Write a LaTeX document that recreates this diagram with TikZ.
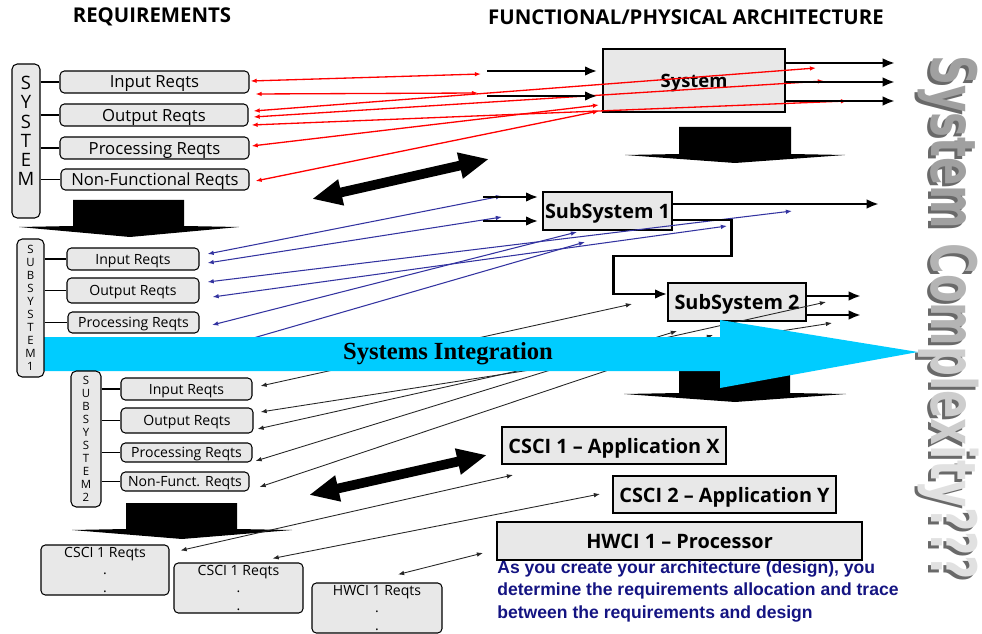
\documentclass[tikz,border=0pt]{standalone}
\usepackage{fontspec}
\setmainfont{Open Sans}
\newfontfamily\serifbf{Liberation Serif}
\newfontfamily\notefont{Liberation Sans}
\newfontfamily\complexfont{DejaVu Sans Condensed}
\usetikzlibrary{arrows.meta,calc}
\newlength\pxu \setlength\pxu{0.02cm}
\definecolor{boxgray}{RGB}{232,232,232}
\definecolor{tracered}{RGB}{255,0,0}
\definecolor{traceblue}{RGB}{51,51,160}
\definecolor{integ}{RGB}{0,204,255}
\definecolor{notenavy}{RGB}{20,20,130}
\definecolor{cgA}{RGB}{160,160,160}
\definecolor{cgB}{RGB}{180,180,180}
\definecolor{cgC}{RGB}{205,205,205}
\definecolor{cgD}{RGB}{225,225,225}
\definecolor{cshadow}{RGB}{105,105,105}
\begin{document}
\begin{tikzpicture}[x=0.02cm,y=-0.02cm,
  reqbox/.style={draw, rounded corners=2.5pt, fill=boxgray, line width=0.6pt, inner sep=0pt, align=center},
  oneline/.style={text depth=0pt},
  vbox/.style={draw, rounded corners=3pt, fill=boxgray, line width=0.6pt, inner sep=0pt, align=center},
  archbox/.style={draw, fill=boxgray, line width=0.8pt, inner sep=0pt, text depth=0pt, font=\fontsize{11.3}{13}\selectfont\bfseries},
  stub/.style={line width=0.8pt},
  redtrace/.style={draw=tracered, line width=0.75pt, >={Latex[length=3.5pt,width=2.6pt]}, <->},
  bluetrace/.style={draw=traceblue, line width=0.6pt, >={Latex[length=3.5pt,width=2.6pt]}, <->},
  blacktrace/.style={draw=black!85, line width=0.5pt, >={Latex[length=3.5pt,width=2.6pt]}, <->},
  flow/.style={line width=1.7pt, -{Latex[length=7pt,width=5.5pt]}},
  fatarrow/.style={line width=5.5pt, {Triangle[length=17pt,width=14pt]}-{Triangle[length=17pt,width=14pt]}},
  titlefont/.style={font=\fontsize{11.6}{13}\selectfont\bfseries}
]
\useasboundingbox (0,0) rectangle (982,634);

% big vertical text
\node[rotate=-90, inner sep=0pt, text=cshadow] (cxs) at (945.5,320.5)
  {\resizebox{10.5cm}{0.95cm}{\complexfont\bfseries System Complexity???}};
\node[rotate=-90, inner sep=0pt] (cx) at (948.5,317.5)
  {\resizebox{10.5cm}{0.95cm}{\complexfont\bfseries\color{cgA}System \color{cgB}Com\color{cgC}plex\color{cgD}ity???}};

% titles
\node[titlefont] (treq) at (152,17) {REQUIREMENTS};
\node[titlefont] (tarch) at (686,17) {FUNCTIONAL/PHYSICAL ARCHITECTURE};

% block arrows
\fill (73,200) -- (184,200) -- (184,226) -- (239,227) -- (130,237) -- (19,227) -- (73,226) -- cycle;
\fill (679,127) -- (791,127) -- (791,154) -- (845,155) -- (735,163) -- (625,155) -- (679,154) -- cycle;
\fill (679,350) -- (790,350) -- (790,393) -- (846,394) -- (735,402) -- (624,394) -- (679,393) -- cycle;
\fill (126,503) -- (237,503) -- (237,529) -- (292,530) -- (182,539) -- (72,530) -- (126,529) -- cycle;

% architecture boxes
\node[archbox, minimum width=182\pxu, minimum height=63\pxu, font=\fontsize{10.5}{12}\selectfont\bfseries] (sys) at (694,80.5) {System};
\node[archbox, minimum width=129\pxu, minimum height=38\pxu] (ss1) at (607.5,211) {SubSystem 1};
\node[archbox, minimum width=138\pxu, minimum height=38\pxu] (ss2) at (737,302) {SubSystem 2};
\node[archbox, minimum width=224\pxu, minimum height=37\pxu] (csci1) at (614,445.5) {CSCI 1 – Application X};
\node[archbox, minimum width=223\pxu, minimum height=37\pxu] (csci2) at (724.5,494.5) {CSCI 2 – Application Y};
\node[archbox, minimum width=365\pxu, minimum height=38\pxu] (hwci) at (679.5,541) {HWCI 1 – Processor};

% note
\node[anchor=north west, inner sep=0pt, align=left, text=notenavy,
      font=\notefont\bfseries\fontsize{10}{12.8}\selectfont] (note) at (497,560)
  {As you create your architecture (design), you\\determine the requirements allocation and trace\\between the requirements and design};

% requirement boxes (bottom level)
\node[reqbox, minimum width=128\pxu, minimum height=50\pxu, font=\fontsize{8}{9.8}\selectfont] (c1r) at (105,570) {CSCI 1 Reqts\\.\\.};
\node[reqbox, minimum width=129\pxu, minimum height=50\pxu, font=\fontsize{8}{9.8}\selectfont] (c2r) at (238.5,588) {CSCI 1 Reqts\\.\\.};
\node[reqbox, minimum width=130\pxu, minimum height=50\pxu, font=\fontsize{8}{9.8}\selectfont] (h1r) at (377,608) {HWCI 1 Reqts\\.\\.};

% subsystem 2 requirement boxes
\node[reqbox, oneline, minimum width=131\pxu, minimum height=22\pxu, font=\fontsize{8}{10}\selectfont] (ir3) at (186.5,389) {Input Reqts};
\node[reqbox, oneline, minimum width=132\pxu, minimum height=25\pxu, font=\fontsize{8}{10}\selectfont] (or3) at (187,420.5) {Output Reqts};
\node[reqbox, oneline, minimum width=131\pxu, minimum height=19\pxu, font=\fontsize{8}{10}\selectfont] (pr3) at (186.5,452.5) {Processing Reqts};
\node[reqbox, oneline, minimum width=128\pxu, minimum height=19\pxu, font=\fontsize{8}{10}\selectfont] (nr3) at (185,481.5) {Non-Funct. Reqts};

% subsystem 1 requirement boxes
\node[reqbox, oneline, minimum width=132\pxu, minimum height=22\pxu, font=\fontsize{8}{10}\selectfont] (ir2) at (133,259) {Input Reqts};
\node[reqbox, oneline, minimum width=132\pxu, minimum height=25\pxu, font=\fontsize{8}{10}\selectfont] (or2) at (133,290.5) {Output Reqts};
\node[reqbox, oneline, minimum width=131\pxu, minimum height=21\pxu, font=\fontsize{8}{10}\selectfont] (pr2) at (133.5,322.5) {Processing Reqts};

% system requirement boxes
\node[reqbox, oneline, minimum width=189\pxu, minimum height=22\pxu, font=\fontsize{9.5}{11}\selectfont] (ir1) at (154.5,82) {Input Reqts};
\node[reqbox, oneline, minimum width=188\pxu, minimum height=22\pxu, font=\fontsize{9.5}{11}\selectfont] (or1) at (154,115) {Output Reqts};
\node[reqbox, oneline, minimum width=189\pxu, minimum height=22\pxu, font=\fontsize{9.5}{11}\selectfont] (pr1) at (154.5,148) {Processing Reqts};
\node[reqbox, oneline, minimum width=188\pxu, minimum height=21\pxu, font=\fontsize{9.5}{11}\selectfont] (nr1) at (155,179.5) {Non-Functional Reqts};

% trace end points on the architecture side
\coordinate (r1e) at (481,74);
\coordinate (r2e) at (478,93);
\coordinate (r3e) at (816,68);
\coordinate (r4e) at (824,81);
\coordinate (r5e) at (847,101);
\coordinate (r6e) at (599,105);
\coordinate (r7e) at (599,111);
\coordinate (b1e) at (502,196);
\coordinate (b2e) at (502,217);
\coordinate (b3e) at (792,211);
\coordinate (b4e) at (727,226);
\coordinate (b5e) at (577,232);
\coordinate (b6e) at (585,242);
\coordinate (b6s) at (205,352);
\coordinate (k1e) at (632,304);
\coordinate (k2e) at (832,323);
\coordinate (k3e) at (826,302);
\coordinate (k4e) at (677,331);
\coordinate (k5e) at (713,335);
\coordinate (k6e) at (513,475);
\coordinate (k7e) at (600,494);
\coordinate (k8e) at (483,553);

% red traces
\draw[redtrace] ($(ir1.east)+(1,-1)$) -- (r1e);
\draw[redtrace] ($(ir1.east)+(6,12)$) -- (r2e);
\draw[redtrace] ($(or1.east)+(5,-4)$) -- (r3e);
\draw[redtrace] ($(or1.east)+(5,2)$) -- (r4e);
\draw[redtrace] ($(or1.east)+(3,10)$) -- (r5e);
\draw[redtrace] ($(pr1.east)+(2,-2)$) -- (r6e);
\draw[redtrace] ($(nr1.east)+(6,1.5)$) -- (r7e);

% blue traces
\draw[bluetrace] ($(ir2.east)+(8,-5)$) -- (b1e);
\draw[bluetrace] ($(ir2.east)+(8,4)$) -- (b2e);
\draw[bluetrace] ($(or2.east)+(8,-8.5)$) -- (b3e);
\draw[bluetrace] ($(or2.east)+(13,6.5)$) -- (b4e);
\draw[bluetrace] ($(pr2.east)+(12.5,2.5)$) -- (b5e);
\draw[bluetrace] (b6s) -- (b6e);

% black traces
\draw[blacktrace] ($(ir3.east)+(8,-3)$) -- (k1e);
\draw[blacktrace] ($(or3.east)+(7,-8.5)$) -- (k2e);
\draw[blacktrace] ($(or3.east)+(4,8.5)$) -- (k3e);
\draw[blacktrace] ($(pr3.east)+(3,8.5)$) -- (k4e);
\draw[blacktrace] ($(nr3.east)+(10,5.5)$) -- (k5e);
\draw[blacktrace] ($(c1r.north east)+(11,6)$) -- (k6e);
\draw[blacktrace] ($(c2r.north east)+(-31,-4)$) -- (k7e);
\draw[blacktrace] ($(h1r.north)+(21,-8)$) -- (k8e);

% flow arrows of the architecture
\coordinate (in1) at (487,71);
\coordinate (in2) at (487,96);
\coordinate (in3) at (483,197);
\coordinate (in4) at (483,221);
\draw[flow] (in1) -- ([xshift=-5\pxu]sys.west |- in1);
\draw[flow] (in2) -- ([xshift=-5\pxu]sys.west |- in2);
\draw[flow] (sys.east |- 0,63) -- (895,63);
\draw[flow] (sys.east |- 0,82) -- (895,82);
\draw[flow] (sys.east |- 0,101) -- (895,101);
\draw[flow] (in3) -- ([xshift=-4\pxu]ss1.west |- in3);
\draw[flow] (in4) -- ([xshift=-4\pxu]ss1.west |- in4);
\draw[flow] (ss1.east |- 0,204) -- (879,204);
\draw[flow] (ss1.east |- 0,220) -- (731,220) -- (731,256) -- (613,256) -- (613,294) -- (ss2.west |- 0,294);
\draw[flow] (ss2.east |- 0,296) -- (861,296);
\draw[flow] (ss2.east |- 0,315) -- (861,315);

% fat double arrows
\coordinate (fa1a) at (312,199);
\coordinate (fa1b) at (489,159);
\coordinate (fa2a) at (309,495);
\coordinate (fa2b) at (487,455);
\draw[fatarrow] (fa1a) -- (fa1b);
\draw[fatarrow] (fa2a) -- (fa2b);

% systems integration arrow
\fill[integ] (30,337) -- (720,337) -- (720,320) -- (918,352) -- (720,388) -- (720,371) -- (30,371) -- cycle;
\node[font=\serifbf\bfseries\fontsize{14}{16}\selectfont] (integ) at (448,354) {Systems Integration};

% vertical boxes and stubs
\node[vbox, minimum width=28\pxu, minimum height=154\pxu] (sysv) at (26,141) {};
\node[inner sep=0pt, align=center, font=\fontsize{10.5}{11}\selectfont] (sysvt) at (26,131) {S\\Y\\S\\T\\E\\M};
\node[vbox, minimum width=27\pxu, minimum height=138\pxu, font=\fontsize{6.5}{7.4}\selectfont] (ss1v) at (30.5,308) {S\\U\\B\\S\\Y\\S\\T\\E\\M\\1};
\node[vbox, minimum width=30\pxu, minimum height=136\pxu, font=\fontsize{6.5}{7.4}\selectfont] (ss2v) at (86,439) {S\\U\\B\\S\\Y\\S\\T\\E\\M\\2};

\draw[stub] (sysv.east |- ir1) -- (ir1.west);
\draw[stub] (sysv.east |- or1) -- (or1.west);
\draw[stub] (sysv.east |- pr1) -- (pr1.west);
\draw[stub] (sysv.east |- nr1) -- (nr1.west);
\draw[stub] (ss1v.east |- ir2) -- (ir2.west);
\draw[stub] (ss1v.east |- or2) -- (or2.west);
\draw[stub] (ss1v.east |- pr2) -- (pr2.west);
\draw[stub] (ss2v.east |- ir3) -- (ir3.west);
\draw[stub] (ss2v.east |- or3) -- (or3.west);
\draw[stub] (ss2v.east |- pr3) -- (pr3.west);
\draw[stub] (ss2v.east |- nr3) -- (nr3.west);
\end{tikzpicture}
\end{document}
